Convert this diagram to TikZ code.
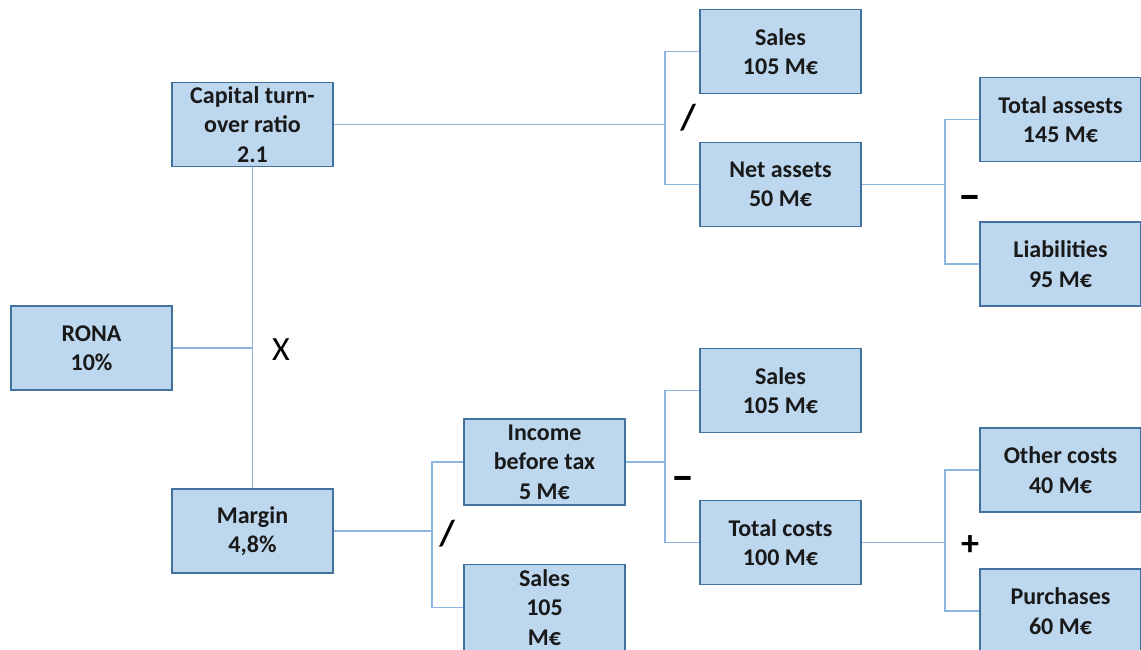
\documentclass[tikz,border=0pt]{standalone}
\usepackage{fontspec}
\setmainfont{Carlito}
\begin{document}
\begin{tikzpicture}[x=1pt,y=-1pt,
  box/.style={draw=boxline, fill=boxfill, line width=1.8pt, minimum width=161pt,
    minimum height=84pt, inner sep=0pt, align=center,
    font=\fontsize{24}{29.5}\selectfont\bfseries, text=black!90},
  link/.style={draw=linkblue, line width=1.4pt},
  op/.style={font=\fontsize{34}{34}\selectfont, text=black, inner sep=0pt,
    text height=22pt, text depth=0pt},
  bop/.style={op, font=\fontsize{36}{36}\selectfont\bfseries, text height=24pt},
  dop/.style={op, font=\fontsize{46}{46}\selectfont\bfseries, text height=24pt}]
\definecolor{boxfill}{HTML}{BDD7EE}
\definecolor{boxline}{HTML}{41719C}
\definecolor{linkblue}{HTML}{8DB6E0}
\useasboundingbox (0,0) rectangle (1141,650);
\clip (0,0) rectangle (1141,650);

% boxes
\node[box] (cap)    at (252.5,124.5) {Capital turn-\\over ratio\\2.1};
\node[box] (rona)   at (91.5,348)    {RONA\\10\%};
\node[box] (margin) at (252.5,531)   {Margin\\4,8\%};
\node[box] (salesA) at (780.5,51.5)  {Sales\\105 M€};
\node[box] (net)    at (780.5,184.5) {Net assets\\50 M€};
\node[box] (total)  at (1060.5,119.5){Total assests\\145 M€};
\node[box] (liab)   at (1060.5,264)  {Liabilities\\95 M€};
\node[box, minimum height=86pt] (income) at (544.5,462) {Income\\before tax\\5 M€};
\node[box, minimum height=86pt] (salesB) at (544.5,607.5) {Sales\\105\\M€};
\node[box] (salesC) at (780.5,390.5) {Sales\\105 M€};
\node[box] (costs)  at (780.5,542.5) {Total costs\\100 M€};
\node[box] (other)  at (1060.5,470)  {Other costs\\40 M€};
\node[box] (purch)  at (1060.5,611)  {Purchases\\60 M€};

% junction points
\coordinate (j1) at (665,124.5);
\coordinate (j2) at (945,184.5);
\coordinate (j3) at (432,531);
\coordinate (j4) at (665,462);
\coordinate (j5) at (945,542.5);

% connectors
\draw[link] (cap.south) -- (margin.north);
\draw[link] (rona.east) -- (cap.south |- rona.east);
\draw[link] (cap.east) -- (j1);
\draw[link] (salesA.west) -| (j1) |- (net.west);
\draw[link] (net.east) -- (j2);
\draw[link] (total.west) -| (j2) |- (liab.west);
\draw[link] (margin.east) -- (j3);
\draw[link] (income.west) -| (j3) |- (salesB.west);
\draw[link] (income.east) -- (j4);
\draw[link] (salesC.west) -| (j4) |- (costs.west);
\draw[link] (costs.east) -- (j5);
\draw[link] (other.west) -| (j5) |- (purch.west);

% operators
\node[op]  (opx) at (281,349) {X};
\node[bop] (op1) at (688,118) {/};
\node[bop] (op2) at (447,533) {/};
\node[dop] (op3) at (683,479) {–};
\node[dop] (op4) at (970,199) {–};
\node[bop] (op5) at (970,543) {+};
\end{tikzpicture}
\end{document}
